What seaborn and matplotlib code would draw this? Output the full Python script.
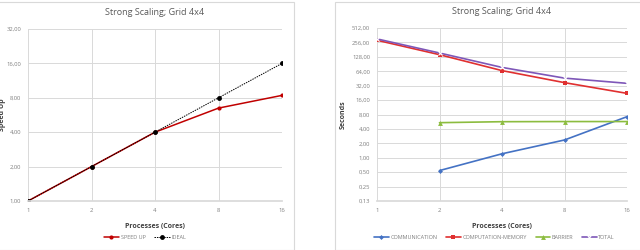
import numpy as np
import pandas as pd
import matplotlib
matplotlib.use('Agg')
import matplotlib.pyplot as plt
import seaborn as sns
from matplotlib.patches import Rectangle
from matplotlib.ticker import FixedLocator, FixedFormatter, NullLocator

# datos
procesos = [1, 2, 4, 8, 16]
speed_up = [1.0, 2.0, 4.0, 6.5, 8.4]
ideal = [1, 2, 4, 8, 16]

procs_com = [2, 4, 8, 16]
communication = [0.54, 1.21, 2.35, 7.2]
computation = [284, 142, 66, 37, 22.1]
barrier = [5.4, 5.66, 5.7, 5.7]
total = [303, 154, 77, 46, 35.8]

ticks_izq = [1, 2, 4, 8, 16, 32]
ticks_der = [0.125, 0.25, 0.5, 1, 2, 4, 8, 16, 32, 64, 128, 256, 512]

sns.set_theme(style="white")
plt.rcParams['font.family'] = ['Open Sans', 'DejaVu Sans']

W, H = 640, 250
fig = plt.figure(figsize=(6.4, 2.5), dpi=100)

# marcos de los paneles (estilo Excel)
for x0, x1 in [(-2, 294), (335, 642)]:
    fig.patches.append(Rectangle((x0 / W, 0), (x1 - x0) / W, 1 - 2 / H,
                                 transform=fig.transFigure, fill=False,
                                 edgecolor='#d9d9d9', linewidth=0.8))

ax1 = fig.add_axes([28 / W, 1 - 201 / H, 254 / W, 172 / H])
ax2 = fig.add_axes([377 / W, 1 - 201 / H, 250 / W, 173 / H])


def fmt(v):
    return f"{v + 1e-9:.2f}".replace('.', ',')


def estilo(ax, yticks, ylim, ylabel, titulo, xlab):
    ax.set_xscale('log', base=2)
    ax.set_yscale('log', base=2)
    ax.set_xlim(1, 16)
    ax.set_ylim(*ylim)
    ax.xaxis.set_major_locator(FixedLocator(procesos))
    ax.xaxis.set_major_formatter(FixedFormatter([str(p) for p in procesos]))
    ax.yaxis.set_major_locator(FixedLocator(yticks))
    ax.yaxis.set_major_formatter(FixedFormatter([fmt(v) for v in yticks]))
    ax.xaxis.set_minor_locator(NullLocator())
    ax.yaxis.set_minor_locator(NullLocator())
    ax.grid(True, color='#d9d9d9', linewidth=0.7)
    for s in ax.spines.values():
        s.set_visible(False)
    ax.spines['bottom'].set_visible(True)
    ax.spines['bottom'].set_color('#d9d9d9')
    ax.tick_params(axis='both', labelsize=4.2, colors='#7f7f7f', length=0, pad=5)
    ax.set_xlabel('Processes (Cores)', fontsize=5, fontweight='bold', color='#404040', labelpad=7)
    ax.set_ylabel(ylabel, fontsize=5, fontweight='bold', color='#404040')
    ax.yaxis.set_label_coords(xlab, 0.5)
    ax.set_title(titulo, fontsize=6.5, color='#595959', pad=10)


# Izquierda: Speed up
sns.lineplot(x=procesos, y=speed_up, ax=ax1, color='#c00000', marker='o',
             markersize=3, markeredgewidth=0, linewidth=1.1, label='SPEED UP')
sns.lineplot(x=procesos, y=ideal, ax=ax1, color='black', marker='o',
             markersize=3.5, markeredgewidth=0, linewidth=0.7, linestyle=(0, (1.5, 1)),
             label='IDEAL')
estilo(ax1, ticks_izq, (1, 32), 'Speed Up', 'Strong Scaling; Grid 4x4', -0.085)
ax1.legend(loc='upper center', bbox_to_anchor=(0.46, -0.17), ncol=2, frameon=False,
           fontsize=4, handlelength=2.8, handletextpad=0.3, columnspacing=1.5,
           labelcolor='#7f7f7f')

# Derecha: tiempos
sns.lineplot(x=procs_com, y=communication, ax=ax2, color='#4472c4', marker='D',
             markersize=2.5, markeredgewidth=0, linewidth=1.2, label='COMMUNICATION')
sns.lineplot(x=procesos, y=computation, ax=ax2, color='#e03030', marker='s',
             markersize=3.5, markeredgewidth=0, linewidth=1.2, label='COMPUTATION-MEMORY')
sns.lineplot(x=procs_com, y=barrier, ax=ax2, color='#8cbc3f', marker='^',
             markersize=3.5, markeredgewidth=0, linewidth=1.2, label='BARRIER')
sns.lineplot(x=procesos, y=total, ax=ax2, color='#7e57b8', marker='x',
             markersize=3, markeredgewidth=0.8, linewidth=1.2, label='TOTAL')
estilo(ax2, ticks_der, (0.125, 512), 'Seconds', 'Strong Scaling; Grid 4x4', -0.12)
ax2.legend(loc='upper center', bbox_to_anchor=(0.47, -0.17), ncol=4, frameon=False,
           fontsize=4, handlelength=2.6, handletextpad=0.3, columnspacing=1.6,
           labelcolor='#7f7f7f')

fig.savefig('out.png', dpi=100)
